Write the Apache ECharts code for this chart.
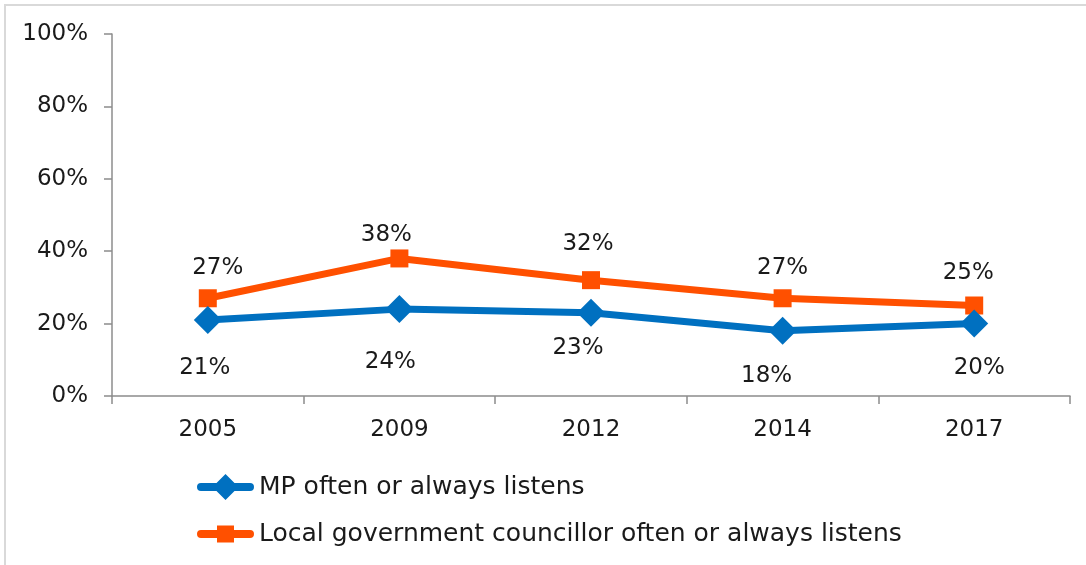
<!DOCTYPE html>
<html>
<head>
<meta charset="utf-8">
<script src="https://cdn.jsdelivr.net/npm/echarts@6/dist/echarts.min.js"></script>
<style>
  html, body { margin: 0; padding: 0; background: #fff; }
  #chart { width: 1086px; height: 565px; }
</style>
</head>
<body>
<div id="chart"></div>
<script>
// Survey years
const years = ['2005', '2009', '2012', '2014', '2017'];
// Share (%) saying their representative often or always listens
const mpListens = [21, 24, 23, 18, 20];
const councillorListens = [27, 38, 32, 27, 25];
const seriesNames = ['MP often or always listens', 'Local government councillor often or always listens'];

// Small nudges for each value label (centre offset from the point, px)
const mpLabelNudge = [[-3, 48], [-9, 53], [-13, 35], [-16, 45], [5, 44]];
const councillorLabelNudge = [[10, -30], [-13, -23], [-3, -36], [0, -30], [-6, -32]];

const FONT = 'DejaVu Sans';
const TEXT = '#1a1a1a';
const AXIS = '#8c8c8c';
const BLUE = '#0070c0';
const ORANGE = '#ff5000';

// Legend keys: thick rounded line with the series marker, in a 57x26 box.
// The tiny corner specks pin the box so the marker keeps its own size.
const KEY_LINE = 'M4 9 L53 9 A4 4 0 0 1 53 17 L4 17 A4 4 0 0 1 4 9 Z';
const KEY_BOX = 'M0 0 L0.01 0 L0 0.01 Z M57 26 L56.99 26 L57 25.99 Z';
const keyDiamond = 'path://' + KEY_BOX + ' ' + KEY_LINE + ' M28.5 0 L41.5 13 L28.5 26 L15.5 13 Z';
const keySquare = 'path://' + KEY_BOX + ' ' + KEY_LINE + ' M20 4.5 L37 4.5 L37 21.5 L20 21.5 Z';

function withLabels(values, nudges) {
  return values.map((v, i) => ({ value: v, label: { offset: nudges[i] } }));
}

const valueLabel = {
  show: true,
  position: 'inside',
  formatter: '{c}%',
  fontFamily: FONT,
  fontSize: 23,
  color: TEXT
};

const chart = echarts.init(document.getElementById('chart'), null, { renderer: 'canvas' });

chart.setOption({
  animation: false,
  backgroundColor: '#ffffff',
  textStyle: { fontFamily: FONT },
  graphic: [
    { type: 'line', shape: { x1: 4, y1: 5, x2: 1086, y2: 5 }, style: { stroke: '#d9d9d9', lineWidth: 2 } },
    { type: 'line', shape: { x1: 5, y1: 4, x2: 5, y2: 565 }, style: { stroke: '#d9d9d9', lineWidth: 2 } }
  ],
  grid: { left: 112, right: 16, top: 34, bottom: 169, containLabel: false },
  legend: {
    orient: 'vertical',
    left: 192,
    top: 469,
    itemWidth: 57,
    itemHeight: 26,
    itemGap: 21,
    textStyle: { fontFamily: FONT, fontSize: 25, color: TEXT, lineHeight: 26 },
    data: [
      { name: seriesNames[0], icon: keyDiamond },
      { name: seriesNames[1], icon: keySquare }
    ]
  },
  xAxis: {
    type: 'category',
    data: years,
    boundaryGap: true,
    axisLine: { lineStyle: { color: AXIS, width: 1.5 } },
    axisTick: { show: true, alignWithLabel: false, length: 8, lineStyle: { color: AXIS, width: 1.5 } },
    axisLabel: { fontFamily: FONT, fontSize: 23, color: TEXT, margin: 23 },
    splitLine: { show: false }
  },
  yAxis: {
    type: 'value',
    min: 0,
    max: 100,
    interval: 20,
    axisLine: { show: true, lineStyle: { color: AXIS, width: 1.5 } },
    axisTick: { show: true, length: 8, lineStyle: { color: AXIS, width: 1.5 } },
    axisLabel: { fontFamily: FONT, fontSize: 23, color: TEXT, margin: 24, formatter: '{value}%' },
    splitLine: { show: false }
  },
  series: [
    {
      name: seriesNames[0],
      type: 'line',
      data: withLabels(mpListens, mpLabelNudge),
      symbol: 'diamond',
      symbolSize: 28,
      lineStyle: { color: BLUE, width: 7 },
      itemStyle: { color: BLUE },
      label: valueLabel,
      z: 3
    },
    {
      name: seriesNames[1],
      type: 'line',
      data: withLabels(councillorListens, councillorLabelNudge),
      symbol: 'rect',
      symbolSize: 18,
      lineStyle: { color: ORANGE, width: 7 },
      itemStyle: { color: ORANGE },
      label: valueLabel,
      z: 2
    }
  ]
});
</script>
</body>
</html>
